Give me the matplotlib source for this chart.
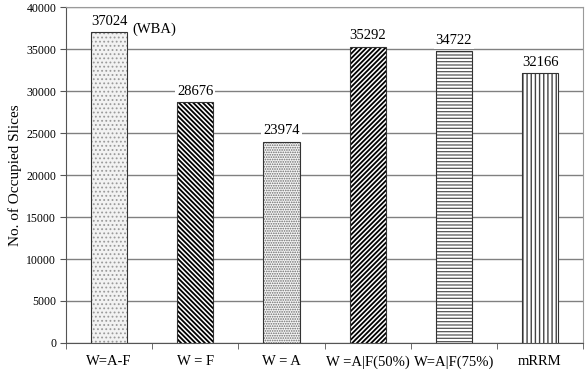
import numpy as np
import matplotlib.pyplot as plt

plt.rcParams['font.family'] = ['Liberation Serif', 'DejaVu Serif']

# Data
categories = ['W=A-F', 'W = F', 'W = A', 'W =A|F(50%)', 'W=A|F(75%)', 'mRRM']
values = [37024, 28676, 23974, 35292, 34722, 32166]

# Styling per bar
hatches = ['....', '\\' * 7, '.......', '/' * 7, '-----', '||||']
hatch_colors = ['#9a9a9a', 'black', '#6a6a6a', 'black', '#555555', '#444444']
face_colors = ['#f2f2f2', 'white', '#f4f4f4', 'white', 'white', 'white']
hatch_lw = [0.8, 1.3, 0.8, 1.3, 0.9, 1.0]

fig = plt.figure(figsize=(5.87, 3.72), dpi=100)
ax = fig.add_axes([0.1124, 0.078, 0.881, 0.903])

x = np.arange(len(categories))
for i in range(len(categories)):
    plt.rcParams['hatch.linewidth'] = hatch_lw[i]
    bars = ax.bar(x[i], values[i], width=0.42, facecolor=face_colors[i],
                  edgecolor=hatch_colors[i], hatch=hatches[i], linewidth=0, zorder=3)
    for b in bars:
        if hasattr(b, 'set_hatch_linewidth'):
            b.set_hatch_linewidth(hatch_lw[i])
    ax.bar(x[i], values[i], width=0.42, facecolor='none',
           edgecolor='#333333', linewidth=0.8, zorder=4)
    ax.text(x[i], values[i] + 500, str(values[i]), ha='center', va='bottom',
            fontsize=10.5, zorder=5,
            bbox=dict(facecolor='white', edgecolor='none', pad=1.5))

ax.text(x[0] + 0.27, values[0] + 300, '(WBA)', ha='left', va='center',
        fontsize=10.5, zorder=5,
        bbox=dict(facecolor='white', edgecolor='none', pad=1.5))

ax.set_xlim(-0.5, len(categories) - 0.5)
ax.set_ylim(0, 40000)
ax.set_yticks(np.arange(0, 40001, 5000))
ax.set_xticks(x)
ax.set_xticklabels(categories, fontsize=10.5)
ax.set_xticks(np.arange(-0.5, len(categories), 1.0), minor=True)
ax.tick_params(axis='x', which='major', length=0, pad=9)
ax.tick_params(axis='x', which='minor', length=4, color='#555555')
ax.tick_params(axis='y', labelsize=8.5, length=4, color='#555555', pad=3)
ax.set_ylabel('No. of Occupied Slices', fontsize=11)
ax.yaxis.set_label_coords(-0.085, 0.5)

ax.yaxis.grid(True, color='#808080', linewidth=1.0, zorder=0)
ax.set_axisbelow(True)
for s in ['top', 'right']:
    ax.spines[s].set_color('#9a9a9a')
for s in ['left', 'bottom']:
    ax.spines[s].set_color('#555555')

fig.savefig('out.png', dpi=100)
